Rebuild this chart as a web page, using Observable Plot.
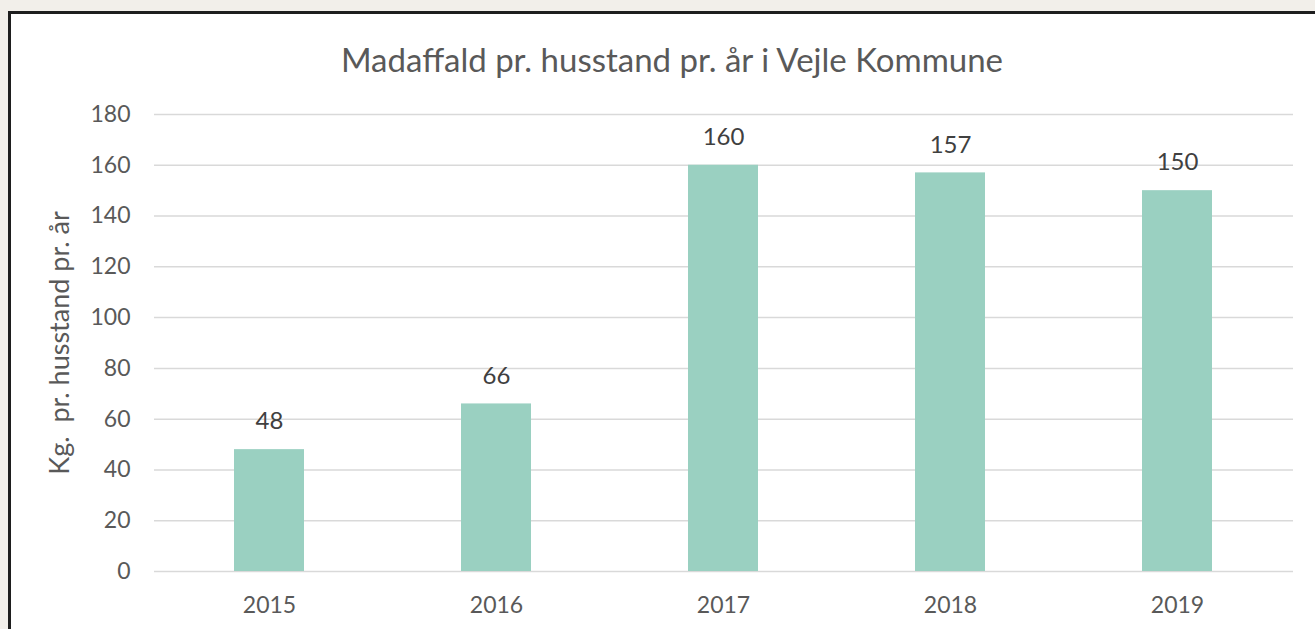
<!DOCTYPE html>
<html>
<head>
<meta charset="utf-8">
<script src="https://cdn.jsdelivr.net/npm/d3@7"></script>
<script src="https://cdn.jsdelivr.net/npm/@observablehq/plot@0.6"></script>
<style>
  html, body { margin: 0; padding: 0; background: #f2efea; width: 1315px; height: 629px; overflow: hidden; font-family: Lato, "Open Sans", sans-serif; }
  #frame { position: absolute; left: 8px; top: 11px; width: 1400px; height: 700px; border: 3px solid #1e1e1e; background: #fff; }
  #title { position: absolute; left: 0; top: 39px; width: 1344px; text-align: center; font-size: 33px; color: #595959; }
  #chart { position: absolute; left: 0; top: 90px; }
</style>
</head>
<body>
<div id="frame"></div>
<div id="title">Madaffald pr. husstand pr. år i Vejle Kommune</div>
<div id="chart"></div>
<script>
const years = ["2015", "2016", "2017", "2018", "2019"];
const values = [48, 66, 160, 157, 150];
const yTicks = [0, 20, 40, 60, 80, 100, 120, 140, 160, 180];
const yLabel = "Kg.  pr. husstand pr. år";

const data = years.map((y, i) => ({year: y, value: values[i]}));

const chart = Plot.plot({
  width: 1315,
  height: 539,
  marginLeft: 154,
  marginRight: 22,
  marginTop: 24,
  marginBottom: 58,
  style: { fontFamily: "Lato, 'Open Sans', sans-serif", fontSize: "23px", color: "#595959", background: "transparent" },
  x: { domain: years, paddingInner: 0.69, paddingOuter: 0.345, label: null },
  y: { domain: [0, 180], label: null },
  marks: [
    Plot.gridY(yTicks, { stroke: "#d9d9d9", strokeWidth: 1.5, strokeOpacity: 1 }),
    Plot.barY(data, { x: "year", y: "value", fill: "#9ad0c1" }),
    Plot.text(data, { x: "year", y: "value", text: d => String(d.value), dy: -28, fill: "#404040", fontSize: 24 }),
    Plot.axisX({ tickSize: 0, tickPadding: 25, fontSize: 23, fill: "#595959", label: null }),
    Plot.axisY({ ticks: yTicks, tickSize: 0, tickPadding: 24, fontSize: 23, fill: "#595959", label: null }),
    Plot.text([yLabel], { frameAnchor: "left", dx: -94, rotate: -90, text: d => d, fill: "#595959", fontSize: 27, textAnchor: "middle" })
  ]
});
document.getElementById("chart").appendChild(chart);
</script>
</body>
</html>
